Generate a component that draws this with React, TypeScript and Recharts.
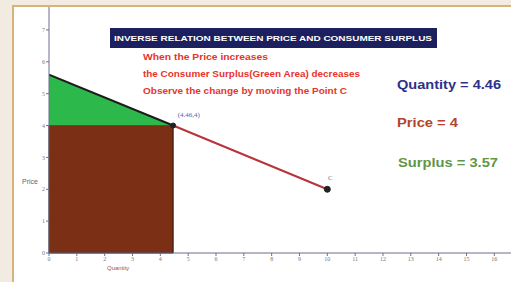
import React from "react"
import {
  ComposedChart,
  Line,
  Area,
  XAxis,
  YAxis,
  ReferenceArea,
  ReferenceDot,
} from "recharts"

// demand curve points
const quantities = [0, 4.46, 10]
const prices = [5.6, 4, 2]
const xTicks = [0, 1, 2, 3, 4, 5, 6, 7, 8, 9, 10, 11, 12, 13, 14, 15, 16]
const yTicks = [0, 1, 2, 3, 4, 5, 6, 7]

const quantity = quantities[1]
const price = prices[1]
const surplus = 3.57

const titleText = "INVERSE RELATION BETWEEN PRICE AND CONSUMER SURPLUS"
const noteLines = [
  "When the  Price increases",
  "the Consumer Surplus(Green Area) decreases",
  "Observe the change by moving the Point C",
]

const upperSegment = [
  { q: quantities[0], p: prices[0] },
  { q: quantities[1], p: prices[1] },
]
const lowerSegment = [
  { q: quantities[1], p: prices[1] },
  { q: quantities[2], p: prices[2] },
]
const surplusBand = [
  { q: quantities[0], band: [price, prices[0]] },
  { q: quantities[1], band: [price, prices[1]] },
]

export default function App() {
  return (
    <div
      style={{
        position: "absolute",
        left: 0,
        top: 0,
        width: 511,
        height: 282,
        background: "#f2ebe2",
        overflow: "hidden",
      }}
    >
      <div
        style={{
          position: "absolute",
          left: 12,
          top: 5,
          width: 520,
          height: 300,
          background: "#ffffff",
          border: "2px solid #d8b377",
        }}
      />
      <div style={{ position: "absolute", left: 0, top: 0 }}>
        <ComposedChart
          width={511}
          height={282}
          margin={{ top: 7, right: 0, bottom: 0, left: 0 }}
        >
          <XAxis
            type="number"
            dataKey="q"
            domain={[0, 16.6]}
            ticks={xTicks}
            allowDataOverflow
            height={29}
            tickSize={3}
            stroke="#6b6f8e"
            tick={{ fontSize: 6, fill: "#777" }}
            tickMargin={1}
            interval={0}
          />
          <YAxis
            type="number"
            domain={[0, 7.72]}
            ticks={yTicks}
            allowDataOverflow
            width={49}
            tickSize={3}
            stroke="#6b6f8e"
            tick={{ fontSize: 6, fill: "#777" }}
            tickMargin={1}
            interval={0}
          />
          <ReferenceArea
            x1={0}
            x2={quantity}
            y1={0}
            y2={price}
            fill="#7b2f15"
            fillOpacity={1}
            stroke="#2a1208"
            strokeWidth={1}
            ifOverflow="visible"
          />
          <Area
            data={surplusBand}
            dataKey="band"
            type="linear"
            fill="#2cb84a"
            fillOpacity={1}
            stroke="none"
            isAnimationActive={false}
          />
          <Line
            data={upperSegment}
            dataKey="p"
            type="linear"
            stroke="#1c1c1c"
            strokeWidth={2}
            dot={false}
            isAnimationActive={false}
          />
          <Line
            data={lowerSegment}
            dataKey="p"
            type="linear"
            stroke="#b8333a"
            strokeWidth={2}
            dot={false}
            isAnimationActive={false}
          />
          <ReferenceDot
            x={quantity}
            y={price}
            r={2.5}
            fill="#222"
            stroke="#222"
            label={{
              value: `(${quantity},${price})`,
              position: "insideBottomLeft",
              dx: 2,
              dy: -6,
              fontSize: 7,
              fill: "#5a5ab0",
            }}
          />
          <ReferenceDot
            x={quantities[2]}
            y={prices[2]}
            r={3}
            fill="#222"
            stroke="#222"
            label={{
              value: "C",
              position: "top",
              dx: 3,
              dy: -1,
              fontSize: 7,
              fill: "#777",
            }}
          />
        </ComposedChart>
      </div>
      <svg
        width={511}
        height={282}
        style={{ position: "absolute", left: 0, top: 0, pointerEvents: "none" }}
      >
        <rect x={110} y={28} width={327} height={20} fill="#1c205e" />
        <text
          x={114}
          y={41}
          fontSize={8}
          fontWeight="bold"
          fontFamily="Liberation Sans, Arial, sans-serif"
          fill="#ffffff"
          textLength={318}
          lengthAdjust="spacingAndGlyphs"
        >
          {titleText}
        </text>
        {noteLines.map((t, i) => (
          <text
            key={t}
            x={143}
            y={60 + i * 17}
            fontSize={8.5}
            fontWeight="bold"
            fontFamily="Liberation Sans, Arial, sans-serif"
            fill="#e8342a"
            textLength={[125, 217, 204][i]}
            lengthAdjust="spacingAndGlyphs"
          >
            {t}
          </text>
        ))}
        <text
          x={397}
          y={89}
          fontSize={13}
          fontWeight="bold"
          fontFamily="Liberation Sans, Arial, sans-serif"
          fill="#2d3189"
          textLength={104}
          lengthAdjust="spacingAndGlyphs"
        >
          {`Quantity = ${quantity}`}
        </text>
        <text
          x={397}
          y={127}
          fontSize={13}
          fontWeight="bold"
          fontFamily="Liberation Sans, Arial, sans-serif"
          fill="#b4452c"
          textLength={61}
          lengthAdjust="spacingAndGlyphs"
        >
          {`Price = ${price}`}
        </text>
        <text
          x={398}
          y={167}
          fontSize={13}
          fontWeight="bold"
          fontFamily="Liberation Sans, Arial, sans-serif"
          fill="#5f9648"
          textLength={100}
          lengthAdjust="spacingAndGlyphs"
        >
          {`Surplus = ${surplus}`}
        </text>
        <text
          x={22}
          y={184}
          fontSize={7}
          fontFamily="Liberation Sans, Arial, sans-serif"
          fill="#666"
        >
          Price
        </text>
        <text
          x={107}
          y={270}
          fontSize={6}
          fontFamily="Liberation Sans, Arial, sans-serif"
          fill="#a0524a"
        >
          Quantity
        </text>
      </svg>
    </div>
  )
}
